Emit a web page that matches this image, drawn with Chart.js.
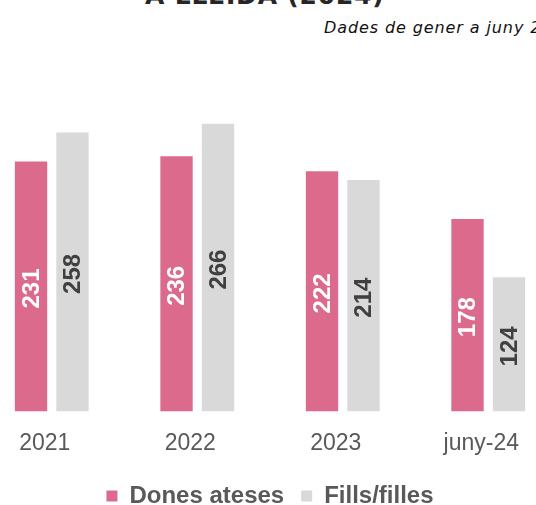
<!DOCTYPE html>
<html>
<head>
<meta charset="utf-8">
<script src="https://cdn.jsdelivr.net/npm/chart.js@4"></script>
<style>
  html, body { margin: 0; padding: 0; background: #fff; width: 536px; height: 505px; overflow: hidden; position: relative; }
  #title { position: absolute; left: 145px; top: -17px; font: bold 25px "DejaVu Sans", sans-serif; letter-spacing: 0.8px; color: #262626; white-space: nowrap; line-height: 1; }
  #sub { position: absolute; left: 324px; top: 18px; font: oblique 16px "DejaVu Sans", sans-serif; letter-spacing: 0.9px; color: #111; white-space: nowrap; }
  #wrap { position: absolute; left: -21px; top: 0; width: 582px; height: 520px; }
</style>
</head>
<body>
<div id="title">A LLEIDA (2024)</div>
<div id="sub">Dades de gener a juny 2024</div>
<div id="wrap"><canvas id="chart"></canvas></div>
<script>
const periods = ['2021', '2022', '2023', 'juny-24'];
const donesAteses = [231, 236, 222, 178];
const fillsFilles = [258, 266, 214, 124];

// numbers written sideways inside each bar
const barLabels = {
  id: 'barLabels',
  afterDatasetsDraw(chart) {
    const ctx = chart.ctx;
    chart.data.datasets.forEach((ds, i) => {
      chart.getDatasetMeta(i).data.forEach((bar, j) => {
        const mid = (bar.y + bar.base) / 2;
        ctx.save();
        ctx.translate(bar.x, mid);
        ctx.rotate(-Math.PI / 2);
        ctx.font = 'bold 24px "Liberation Sans", Arial, sans-serif';
        ctx.fillStyle = ds.labelColor;
        ctx.textAlign = 'center';
        ctx.textBaseline = 'middle';
        ctx.fillText(ds.data[j], -2, 1);
        ctx.restore();
      });
    });
  }
};

new Chart(document.getElementById('chart'), {
  type: 'bar',
  data: {
    labels: periods,
    datasets: [
      {
        label: 'Dones ateses',
        data: donesAteses,
        backgroundColor: '#DB6A8C',
        labelColor: '#ffffff',
        categoryPercentage: 0.57,
        barPercentage: 0.78
      },
      {
        label: 'Fills/filles',
        data: fillsFilles,
        backgroundColor: '#D9D9D9',
        labelColor: '#404040',
        categoryPercentage: 0.57,
        barPercentage: 0.78
      }
    ]
  },
  options: {
    responsive: true,
    maintainAspectRatio: false,
    animation: false,
    layout: { padding: { top: 87, bottom: 2 } },
    scales: {
      x: {
        grid: { display: false },
        border: { display: false },
        ticks: {
          color: '#595959',
          font: { family: '"Liberation Sans", Arial, sans-serif', size: 23 },
          padding: 10,
          labelOffset: -7
        }
      },
      y: {
        display: false,
        min: 0,
        max: 300
      }
    },
    plugins: {
      legend: {
        position: 'bottom',
        labels: {
          boxWidth: 11,
          boxHeight: 11,
          padding: 17,
          color: '#595959',
          font: { family: '"Liberation Sans", Arial, sans-serif', size: 24, weight: 'bold' }
        }
      },
      tooltip: { enabled: false }
    }
  },
  plugins: [barLabels]
});
</script>
</body>
</html>
